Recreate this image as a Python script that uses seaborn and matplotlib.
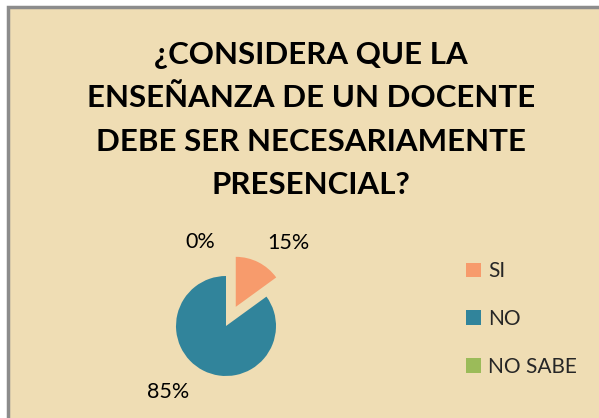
import numpy as np
import matplotlib
matplotlib.use('Agg')
import matplotlib.pyplot as plt
from matplotlib.patches import Rectangle
import seaborn as sns

sns.set_style('white')
plt.rcParams['font.family'] = ['Lato', 'DejaVu Sans']

# Data
CATEGORIES = ['SI', 'NO', 'NO SABE']
VALUES = [15, 85, 0]
PCT_LABELS = ['15%', '85%', '0%']
COLORS = ['#F79B6C', '#31849B', '#9BBB59']
TITLE = '¿CONSIDERA QUE LA\nENSEÑANZA DE UN DOCENTE\nDEBE SER NECESARIAMENTE\nPRESENCIAL?'

# label positions (pie radius units)
LABEL_POS = [(1.24, 1.66), (-1.16, -1.32), (-0.52, 1.68)]

W, H = 599, 418
fig = plt.figure(figsize=(W / 100, H / 100), dpi=100)
fig.patch.set_facecolor('white')

# parchment chart area with grey border
bg = Rectangle((8 / W, -0.01), 1.0, 1 - 7 / H + 0.01, transform=fig.transFigure,
               facecolor='#EFDDB4', edgecolor='#8C8C8C', linewidth=2.5, zorder=-5)
fig.patches.append(bg)

fig.text(311 / W, 1 - 120 / H, TITLE, ha='center', va='center', fontsize=22.5,
         fontweight='bold', linespacing=1.68, color='black')

# pie axes: centre (226, 326) px, radius 50 px
r = 50
cx, cy = 226, 326
ax = fig.add_axes([(cx - 2.5 * r) / W, (H - cy - 2.5 * r) / H, 5 * r / W, 5 * r / H])
ax.set_facecolor('none')
wedges, _ = ax.pie(VALUES, colors=COLORS, startangle=90, counterclock=False,
                   explode=[0.43, 0, 0], radius=1,
                   wedgeprops={'linewidth': 0, 'edgecolor': 'none'})
ax.set_xlim(-2.5, 2.5)
ax.set_ylim(-2.5, 2.5)
ax.set_aspect('equal')
ax.axis('off')

for (x, y), txt in zip(LABEL_POS, PCT_LABELS):
    ax.text(x, y, txt, ha='center', va='center', fontsize=15.5, color='black')

leg = fig.legend(wedges, CATEGORIES, loc='center left',
                 bbox_to_anchor=(466 / W, 1 - 319 / H), frameon=False,
                 fontsize=15, handlelength=0.7, handleheight=0.7,
                 handletextpad=0.35, labelspacing=1.33, borderpad=0,
                 borderaxespad=0)

fig.savefig('out.png', dpi=100)
